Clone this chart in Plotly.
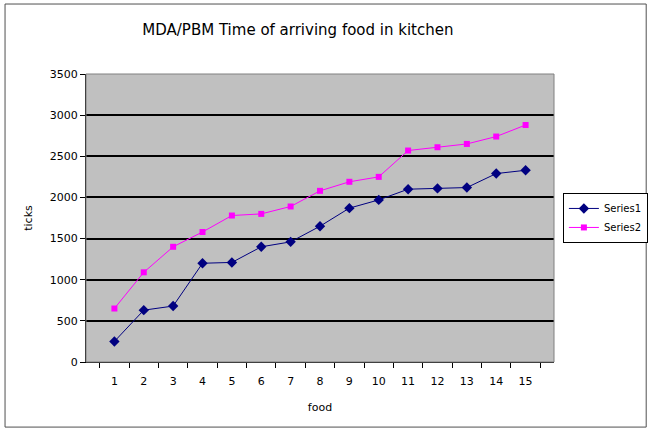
import plotly.graph_objects as go

# Food items (x categories) and arrival times in ticks
food = [str(i) for i in range(1, 16)]
series1 = [250, 630, 680, 1200, 1210, 1400, 1460, 1650, 1870, 1970, 2100, 2110, 2120, 2290, 2330]
series2 = [650, 1090, 1400, 1580, 1780, 1800, 1890, 2080, 2190, 2250, 2570, 2610, 2650, 2740, 2880]
y_ticks = [0, 500, 1000, 1500, 2000, 2500, 3000, 3500]

FONT = "DejaVu Sans, Verdana, sans-serif"

fig = go.Figure()
fig.add_trace(go.Scatter(
    x=food, y=series1, name="Series1", mode="lines+markers",
    line=dict(color="#000080", width=1),
    marker=dict(symbol="diamond", size=8, color="#000080"),
))
fig.add_trace(go.Scatter(
    x=food, y=series2, name="Series2", mode="lines+markers",
    line=dict(color="#FF00FF", width=1),
    marker=dict(symbol="square", size=6, color="#FF00FF"),
))

fig.update_layout(
    width=649, height=429,
    margin=dict(l=86, r=95, t=74, b=67, autoexpand=False),
    paper_bgcolor="white",
    plot_bgcolor="#C0C0C0",
    font=dict(family=FONT, size=11, color="black"),
    title=dict(text="MDA/PBM Time of arriving food in kitchen",
               x=0.459, xanchor="center", y=0.93, yanchor="middle",
               font=dict(size=15, family=FONT)),
    showlegend=True,
    legend=dict(x=1.019, xanchor="left", y=0.587, yanchor="top",
                bordercolor="black", borderwidth=1, bgcolor="white",
                font=dict(size=10, family=FONT),
                tracegroupgap=0, itemwidth=30),
    xaxis=dict(
        type="category", tickson="boundaries", ticks="outside",
        ticklen=5, tickcolor="black", showgrid=False,
        showline=True, linecolor="black", linewidth=1,
        ticklabelstandoff=9,
        title=dict(text="food", standoff=16, font=dict(size=11)),
        tickfont=dict(size=11),
    ),
    yaxis=dict(
        range=[0, 3500], tickvals=y_ticks, ticks="outside", ticklen=5,
        tickcolor="black", showgrid=True, gridcolor="black", gridwidth=1.5,
        zeroline=False, showline=True, linecolor="black", linewidth=1,
        title=dict(text="ticks", standoff=14, font=dict(size=11)),
        tickfont=dict(size=11),
    ),
    shapes=[
        # grey frame of the plot area
        dict(type="rect", xref="paper", yref="paper", x0=0, x1=1, y0=0, y1=1,
             line=dict(color="#808080", width=1), layer="above"),
        # outer chart border
        dict(type="rect", xref="paper", yref="paper",
             x0=-0.173, x1=1.197, y0=-0.226, y1=1.243,
             line=dict(color="#505050", width=1)),
    ],
)

fig.write_html("out.html")
